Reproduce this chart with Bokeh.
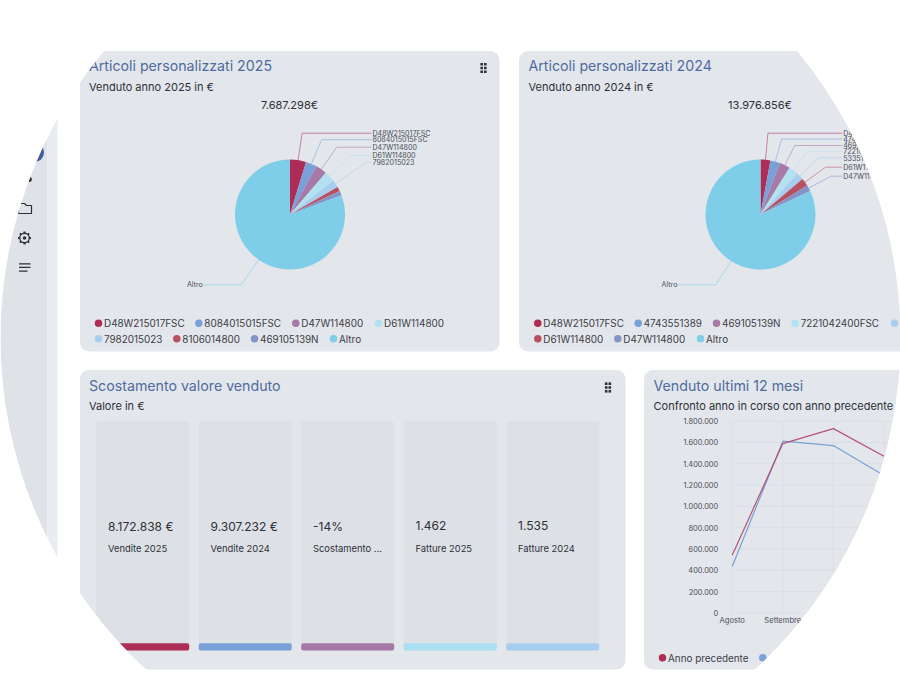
import math
from bokeh.plotting import figure
from bokeh.models import Range1d, LinearAxis, FixedTicker
from bokeh.core.properties import value
from bokeh.embed import file_html
from bokeh.resources import INLINE

# ---------- data ----------
pie_2025_names = ["D48W215017FSC", "8084015015FSC", "D47W114800", "D61W114800", "7982015023", "8106014800", "469105139N", "Altro"]
pie_2025_values = [338000, 238000, 235000, 224000, 160000, 96000, 96000, 5800298]
pie_2025_total = "7.687.298€"

pie_2024_names = ["D48W215017FSC", "4743551389", "469105139N", "7221042400FSC", "5335151000", "D61W114800", "D47W114800", "Altro"]
pie_2024_values = [405000, 405000, 426000, 391000, 307000, 321000, 259000, 11462856]
pie_2024_total = "13.976.856€"

kpi_values = ["8.172.838 €", "9.307.232 €", "-14%", "1.462", "1.535"]
kpi_labels = ["Vendite 2025", "Vendite 2024", "Scostamento ...", "Fatture 2025", "Fatture 2024"]

months = ["Agosto", "Settembre", "Ottobre", "Novembre"]
sales_previous = [540000, 1590000, 1730000, 1471000]
sales_current = [435000, 1612000, 1571000, 1290000]
sales_ticks = [0, 200000, 400000, 600000, 800000, 1000000, 1200000, 1400000, 1600000, 1800000]
sales_tick_labels = ["0", "200.000", "400.000", "600.000", "800.000", "1.000.000", "1.200.000", "1.400.000", "1.600.000", "1.800.000"]

# ---------- style ----------
SLICE_COLORS = ["#ad2d57", "#7aa0d8", "#a679a6", "#b2e2f0", "#a9cdee", "#b8505f", "#8594c8", "#7ecde9"]
KPI_COLORS = ["#ad2d57", "#7aa0d8", "#a679a6", "#a9dff0", "#a9cdee"]
CARD = "#e3e6eb"
TILE = "#dde0e5"
TITLE = "#4f6b9e"
INK = "#2c3138"
FONT = "Inter"

p = figure(width=900, height=675, output_backend="svg", toolbar_location=None,
           x_range=Range1d(0, 900), y_range=Range1d(675, 0),
           x_axis_type=None, y_axis_type=None, min_border=0,
           outline_line_color=None, background_fill_color="white", border_fill_color="white")
p.grid.visible = False


def txt(x, y, s, size, color=INK, align="left"):
    p.text(x=[x], y=[y], text=[s], text_font=value(FONT), text_font_size=f"{size}px", text_color=color,
           text_align=align, text_baseline="middle")


def card(l, t, r, b, color=CARD, radius=9):
    p.quad(left=[l], right=[r], top=[t], bottom=[b], fill_color=color, line_color=None, border_radius=radius)


def dots(cx, cy):
    for dx in (-1.8, 1.8):
        for dy in (-3.8, 0, 3.8):
            p.scatter(x=[cx + dx], y=[cy + dy], marker="square", size=2.6, fill_color="#2c3138", line_color=None)


def pie(cx, cy, r, values, names, total, label_ys, label_x):
    s = sum(values)
    a = 0.0
    mids = []
    for v, c in zip(values, SLICE_COLORS):
        b = a + v / s * 2 * math.pi
        p.wedge(x=[cx], y=[cy], radius=r, start_angle=math.pi / 2 - a, end_angle=math.pi / 2 - b,
                direction="clock", fill_color=c, line_color=None)
        mids.append((a + b) / 2)
        a = b
    # leader lines for the labelled slices and for "Altro"
    for i, ly in enumerate(label_ys):
        m = mids[i]
        sx, sy = cx + r * math.sin(m), cy - r * math.cos(m)
        ex = cx + (cy - ly) * math.tan(m)
        p.line(x=[sx, ex, label_x - 1], y=[sy, ly, ly], line_color=SLICE_COLORS[i], line_alpha=0.55, line_width=1)
        txt(label_x, ly, names[i], 7.1, "#4a4f57")
    m = mids[-1]
    ly = 284.3
    sx, sy = cx + r * math.sin(m), cy - r * math.cos(m)
    ex = cx + (cy - ly) * math.tan(m)
    p.line(x=[sx, ex, ex - 38], y=[sy, ly, ly], line_color=SLICE_COLORS[7], line_alpha=0.55, line_width=1)
    txt(ex - 38.5, ly, names[-1], 7.1, "#4a4f57", "right")
    txt(cx - 0.5, 104, total, 11, INK, "center")


def legend(rows, names, colors):
    i = 0
    for y, xs in rows:
        for mx in xs:
            p.scatter(x=[mx], y=[y], marker="circle", size=7.5, fill_color=colors[i], line_color=None)
            txt(mx + 5.5, y, names[i], 9.9, "#3b4047")
            i += 1


# sidebar
card(-10, 0, 47, 690, "#dfe2e7", 0)
card(47, 0, 57, 690, "#e9ecf0", 0)
p.circle(x=[34], y=[152], radius=9.5, fill_color="#3f5c9c", line_color=None)
p.circle(x=[29], y=[179], radius=2.4, fill_color="#2c3138", line_color=None)
p.line(x=[18, 18, 24, 26, 31, 31, 18], y=[213, 203, 203, 205, 205, 213, 213], line_color="#2c3138", line_width=1.2)
p.scatter(x=[24], y=[237.5], marker="asterisk", size=13, line_color="#2c3138", line_width=2)
p.scatter(x=[24], y=[237.5], marker="circle", size=9.5, fill_color="#dfe2e7", line_color="#2c3138", line_width=1.3)
p.scatter(x=[24], y=[237.5], marker="circle", size=3.5, fill_color="#2c3138", line_color=None)
for my, mx in ((263.3, 30), (266.8, 30), (270.6, 27)):
    p.line(x=[18.5, mx], y=[my, my], line_color="#2c3138", line_width=1.2)

# cards
card(79.5, 50.5, 499, 351)
card(518.5, 50.5, 960, 351)
card(79.5, 369.5, 625, 669)
card(643.5, 369.5, 960, 669)

# card 1
txt(88.5, 65, "Articoli personalizzati 2025", 14.2, TITLE)
txt(88.5, 86.5, "Venduto anno 2025 in €", 11)
dots(483, 67.5)
pie(289.5, 214, 55, pie_2025_values, pie_2025_names, pie_2025_total,
    [132.7, 139.2, 146.7, 155, 161.7], 372)
legend([(322.7, [98, 198.3, 295.3, 378]), (338.2, [98, 176.3, 254, 333])], pie_2025_names, SLICE_COLORS)

# card 2
txt(528, 65, "Articoli personalizzati 2024", 14.2, TITLE)
txt(528, 86.5, "Venduto anno 2024 in €", 11)
pie(760, 214, 55, pie_2024_values, pie_2024_names, pie_2024_total,
    [132.7, 138.5, 145, 150.7, 157.3, 166.7, 175.7], 842.7)
legend([(322.7, [537.3, 637.7, 716, 794.7, 894]), (338.2, [537.3, 617.3, 700])], pie_2024_names, SLICE_COLORS)

# card 3 : KPI tiles
txt(88.5, 384.5, "Scostamento valore venduto", 14.2, TITLE)
txt(88.5, 405.5, "Valore in €", 11)
dots(607.5, 387)
tile_lefts = [95.7, 198.2, 300.7, 403.2, 505.7]
for i, l in enumerate(tile_lefts):
    card(l, 420.7, l + 93, 650, TILE, 3)
    p.quad(left=[l], right=[l + 93], top=[642.7], bottom=[650], fill_color=KPI_COLORS[i], line_color=None, border_radius=2)
    txt(l + 11.8, 525.7 if i < 3 else 524.7, kpi_values[i], 12)
    txt(l + 11.8, 548, kpi_labels[i], 9.4)

# card 4 : line chart on its own scales
txt(653, 384.5, "Venduto ultimi 12 mesi", 14.2, TITLE)
txt(653, 405.5, "Confronto anno in corso con anno precedente", 11)

px_first, px_step = 731.7, 50.6
py_zero, py_top = 612.3, 420.7
per_px = sales_ticks[-1] / (py_zero - py_top)
p.extra_x_ranges = {"months": Range1d((0 - px_first) / px_step, (900 - px_first) / px_step)}
p.extra_y_ranges = {"sales": Range1d((py_zero - 675) * per_px, (py_zero - 0) * per_px)}
month_idx = list(range(len(months)))
GRID = "#dcdfe5"
p.segment(x0=[0] * len(sales_ticks), x1=[len(months) - 1 + 0.4] * len(sales_ticks), y0=sales_ticks, y1=sales_ticks,
          line_color=GRID, line_width=1, x_range_name="months", y_range_name="sales")
p.segment(x0=month_idx, x1=month_idx, y0=[0] * len(months), y1=[sales_ticks[-1]] * len(months),
          line_color=GRID, line_width=1, x_range_name="months", y_range_name="sales")
p.line(month_idx, sales_current, line_color="#7aa0d8", line_width=1.2, x_range_name="months", y_range_name="sales")
p.line(month_idx, sales_previous, line_color="#b0426a", line_alpha=0.9, line_width=1.2, x_range_name="months", y_range_name="sales")

yax = LinearAxis(x_range_name="months", y_range_name="sales", fixed_location=0,
                 ticker=FixedTicker(ticks=sales_ticks),
                 major_label_overrides=dict(zip(sales_ticks, sales_tick_labels)),
                 major_label_text_font=FONT, major_label_text_font_size="7.4px", major_label_text_color="#4a4f57",
                 major_tick_in=0, major_tick_out=0, minor_tick_in=0, minor_tick_out=0,
                 major_tick_line_color=None, minor_tick_line_color=None, axis_line_color=None, major_label_standoff=14)
xax = LinearAxis(x_range_name="months", y_range_name="sales", fixed_location=0,
                 ticker=FixedTicker(ticks=month_idx),
                 major_label_overrides=dict(zip(month_idx, months)),
                 major_label_text_font=FONT, major_label_text_font_size="7.6px", major_label_text_color="#4a4f57",
                 major_tick_in=0, major_tick_out=0, minor_tick_in=0, minor_tick_out=0,
                 major_tick_line_color=None, minor_tick_line_color=None, axis_line_color=None, major_label_standoff=3)
p.add_layout(yax, "left")
p.add_layout(xax, "below")

legend([(657.2, [662, 762.3])], ["Anno precedente", "Anno in corso"], ["#ad2d57", "#7aa0d8"])

# circular crop of the whole picture
p.annulus(x=[450], y=[337.5], inner_radius=450, outer_radius=1100, fill_color="white", line_color=None, level="overlay")

open("out.html", "w").write(file_html(p, INLINE))
